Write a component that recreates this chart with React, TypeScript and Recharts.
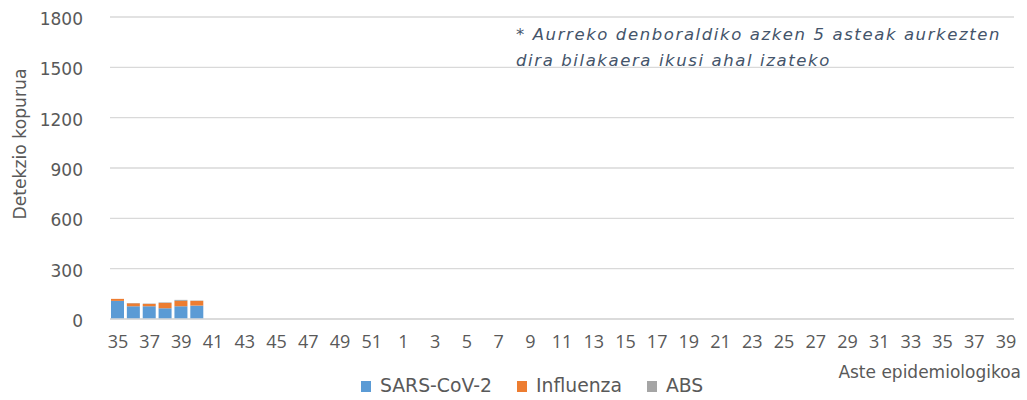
import React from 'react';
import {
  BarChart,
  Bar,
  XAxis,
  YAxis,
  CartesianGrid,
  Legend
} from 'recharts';

const weeks: string[] = [
  '35', '36', '37', '38', '39', '40', '41', '42', '43', '44', '45', '46', '47', '48', '49', '50', '51', '52',
  '1', '2', '3', '4', '5', '6', '7', '8', '9', '10', '11', '12', '13', '14', '15', '16', '17', '18', '19', '20',
  '21', '22', '23', '24', '25', '26', '27', '28', '29', '30', '31', '32', '33', '34', '35', '36', '37', '38', '39'
];

// only the first weeks have values so far
const sarsCov2: number[] = [108, 76, 76, 64, 76, 80];
const influenza: number[] = [12, 18, 14, 32, 32, 28];
const absValues: number[] = [0, 2, 2, 3, 6, 2];

const yTicks: number[] = [0, 300, 600, 900, 1200, 1500, 1800];

const SERIES = [
  { key: 'sars', name: 'SARS-CoV-2', color: '#5b9bd5' },
  { key: 'influenza', name: 'Influenza', color: '#ed7d31' },
  { key: 'abs', name: 'ABS', color: '#a5a5a5' }
];

const TEXT_COLOR = '#595959';
const GRID_COLOR = '#d9d9d9';
const FONT = '"DejaVu Sans", sans-serif';

const data = weeks.map((week, i) => ({
  week,
  sars: sarsCov2[i],
  influenza: influenza[i],
  abs: absValues[i]
}));

const renderLegend = () => (
  <div style={{ display: 'flex', alignItems: 'center', fontFamily: FONT, fontSize: 18.8, color: TEXT_COLOR, lineHeight: '22px' }}>
    {SERIES.map((s, i) => (
      <div key={s.key} style={{ display: 'flex', alignItems: 'center', marginRight: i < SERIES.length - 1 ? 25 : 0 }}>
        <span style={{ display: 'inline-block', width: 10, height: 11, background: s.color, marginRight: 9 }} />
        <span>{s.name}</span>
      </div>
    ))}
  </div>
);

const App: React.FC = () => {
  return (
    <div style={{ position: 'absolute', left: 0, top: 0, width: 1027, height: 400, background: '#fff' }}>
      <BarChart
        width={1027}
        height={400}
        data={data}
        margin={{ top: 17, right: 13, left: 0, bottom: 0 }}
        barSize={13}
      >
        <CartesianGrid vertical={false} stroke={GRID_COLOR} strokeWidth={1.3} />
        <XAxis
          dataKey="week"
          interval={1}
          height={81}
          tickLine={false}
          tickSize={0}
          tickMargin={16}
          axisLine={{ stroke: GRID_COLOR, strokeWidth: 1.3 }}
          tick={{ fill: TEXT_COLOR, fontSize: 18, fontFamily: '"Open Sans", sans-serif' }}
        />
        <YAxis
          width={110}
          domain={[0, 1800]}
          ticks={yTicks}
          interval={0}
          axisLine={false}
          tickLine={false}
          tickSize={0}
          tickMargin={27}
          tick={{ fill: TEXT_COLOR, fontSize: 17, fontFamily: FONT, dy: 2 }}
        />
        <Legend
          layout="horizontal"
          verticalAlign="middle"
          align="center"
          wrapperStyle={{ left: 361, top: 375, width: 'auto' }}
          content={renderLegend}
        />
        {SERIES.map((s) => (
          <Bar
            key={s.key}
            dataKey={s.key}
            name={s.name}
            stackId="a"
            fill={s.color}
            isAnimationActive={false}
          />
        ))}
        <text
          x={20}
          y={144}
          transform="rotate(-90, 20, 144)"
          textAnchor="middle"
          dominantBaseline="central"
          fill={TEXT_COLOR}
          fontSize={17.2}
          fontFamily={FONT}
        >
          Detekzio kopurua
        </text>
        <text x={1021} y={378} textAnchor="end" fill={TEXT_COLOR} fontSize={17} fontFamily={FONT}>
          Aste epidemiologikoa
        </text>
        <text x={516} y={40} fill="#44546a" fontSize={16.5} fontStyle="italic" fontFamily={FONT} letterSpacing={1.6}>
          * Aurreko denboraldiko azken 5 asteak aurkezten
        </text>
        <text x={516} y={66} fill="#44546a" fontSize={16.5} fontStyle="italic" fontFamily={FONT} letterSpacing={1.6}>
          dira bilakaera ikusi ahal izateko
        </text>
      </BarChart>
    </div>
  );
};

export default App;
